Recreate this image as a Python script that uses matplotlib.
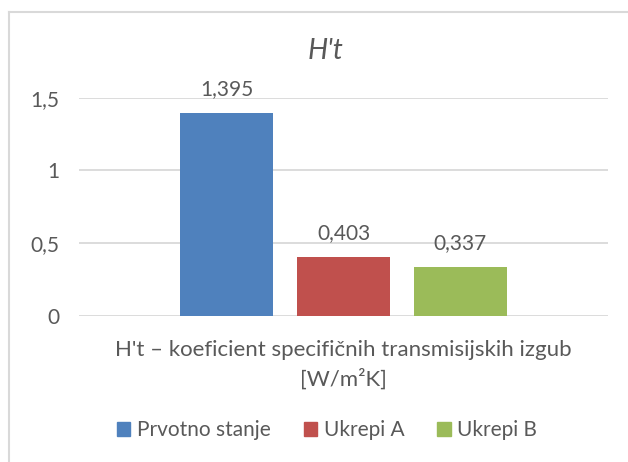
import matplotlib.pyplot as plt
from matplotlib.lines import Line2D
from matplotlib.patches import Patch
from matplotlib.ticker import FuncFormatter, MultipleLocator

# podatki
series = ['Prvotno stanje', 'Ukrepi A', 'Ukrepi B']
values = [1.395, 0.403, 0.337]
colors = ['#4F81BD', '#C0504D', '#9BBB59']
category = "H't – koeficient specifičnih transmisijskih izgub\n[W/m²K]"
title = "H't"

W, H = 628, 462
TXT = '#595959'
GRID = '#D9D9D9'


def comma(v, pos=None):
    s = ('%g' % v)
    return s.replace('.', ',')


def main():
    plt.rcParams['font.family'] = ['Lato', 'DejaVu Sans']
    fig = plt.figure(figsize=(W / 100, H / 100), dpi=100)

    # okvir grafa
    fig.add_artist(Line2D([8.5 / W, 1], [1 - 11.5 / H, 1 - 11.5 / H],
                          transform=fig.transFigure, color=GRID, lw=1.5))
    fig.add_artist(Line2D([8.5 / W, 8.5 / W], [0, 1 - 11.5 / H],
                          transform=fig.transFigure, color=GRID, lw=1.5))

    left, right = 79 / W, 608 / W
    top, bottom = 1 - 97.7 / H, 1 - 316 / H
    ax = fig.add_axes([left, bottom, right - left, top - bottom])

    step, width = 0.221, 0.176
    for i, (name, v, c) in enumerate(zip(series, values, colors)):
        x = (i - 1) * step
        ax.bar(x, v, width=width, color=c, label=name, zorder=3)
        ax.annotate(comma(round(v, 3)), (x, v), xytext=(0, 13),
                    textcoords='offset points', ha='center', va='baseline',
                    fontsize=15, color=TXT, annotation_clip=False)

    ax.set_xlim(-0.5, 0.5)
    ax.set_ylim(0, 1.5)
    ax.yaxis.set_major_locator(MultipleLocator(0.5))
    ax.yaxis.set_major_formatter(FuncFormatter(comma))
    ax.grid(axis='y', color=GRID, lw=1.3, zorder=0)
    ax.set_axisbelow(True)
    for s in ax.spines.values():
        s.set_visible(False)
    ax.set_xticks([0])
    ax.set_xticklabels([category], linespacing=1.5)
    ax.tick_params(axis='both', length=0, labelsize=15, colors=TXT)
    ax.tick_params(axis='x', pad=17, labelsize=16)
    ax.tick_params(axis='y', pad=14)

    fig.text(326 / W, 1 - 59 / H, title, ha='center', va='baseline',
             fontsize=20.5, style='italic', color=TXT)

    handles = [Patch(color=c) for c in colors]
    fig.legend(handles, series, loc='center', bbox_to_anchor=(327 / W, 1 - 430 / H),
               ncol=3, frameon=False, fontsize=15, labelcolor=TXT,
               handlelength=0.65, handleheight=0.65, handletextpad=0.3,
               columnspacing=1.6)

    plt.savefig('out.png', dpi=100)


if __name__ == '__main__':
    main()
